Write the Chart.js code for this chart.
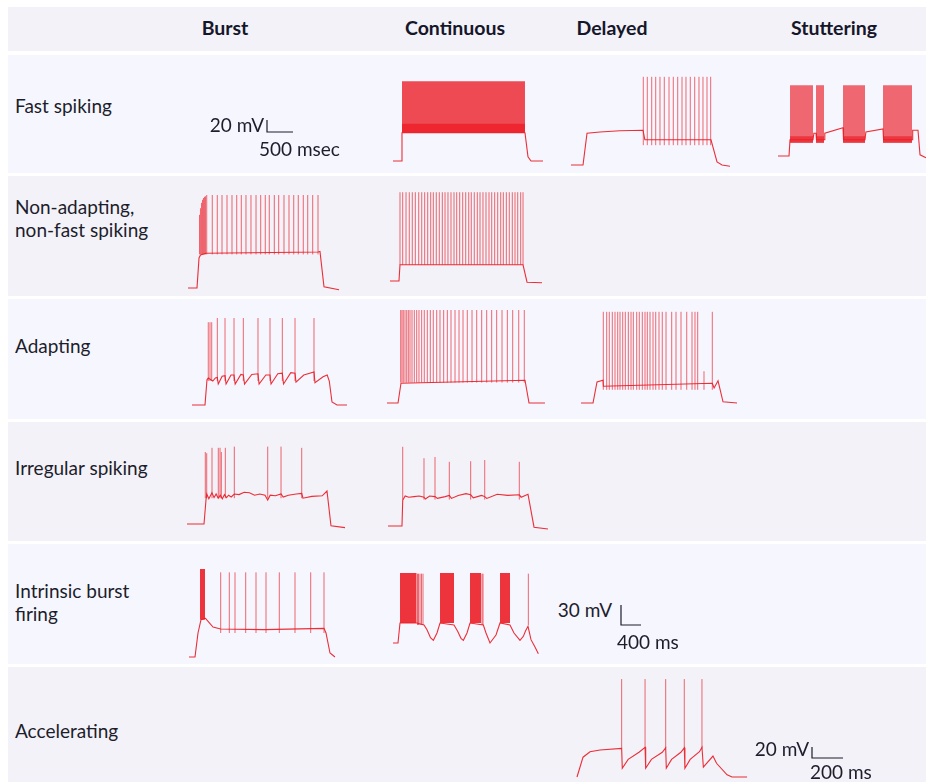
<!DOCTYPE html>
<html>
<head>
<meta charset="utf-8">
<script src="https://cdn.jsdelivr.net/npm/chart.js@4.4.1/dist/chart.umd.min.js"></script>
<style>
  html, body { margin: 0; padding: 0; background: #fff; }
  #page { position: relative; width: 926px; height: 782px; overflow: hidden;
          font-family: Lato, "Open Sans", sans-serif; color: #1d1d2c; }
  .bg { position: absolute; left: 8px; right: 0; }
  .col { position: absolute; top: 16px; font-weight: 700; font-size: 19.5px; line-height: 24px;
         transform: translateX(-50%); white-space: nowrap; color: #16162a; }
  .lbl { position: absolute; left: 15px; font-size: 19px; line-height: 23px; white-space: nowrap; }
  .sb { position: absolute; font-size: 19px; line-height: 20px; white-space: nowrap; }
  canvas { position: absolute; }
</style>
</head>
<body>
<div id="page"></div>
<script>
// ---- text ----
const columns = ['Burst', 'Continuous', 'Delayed', 'Stuttering'];
const rowLabels = [['Fast spiking'], ['Non-adapting,', 'non-fast spiking'], ['Adapting'],
                   ['Irregular spiking'], ['Intrinsic burst', 'firing'], ['Accelerating']];
const scaleBarMv = [20, 30, 20];
const scaleBarMs = [500, 400, 200];
const scaleBarMsLabel = ['500 msec', '400 ms', '200 ms'];

// ---- traces: time in ms, membrane potential in mV ----
// fast spiking / continuous
const fsContPath = [[0,-70],[154,-70],[173,-23],[2538,-23],[2596,-63],[2654,-70],[2885,-70]];
const fsContBands = [[173,2538,-23,63],[173,2538,-23,-8]];

// fast spiking / delayed
const fsDelayedPath = [[0,-70],[231,-70],[308,-17],[558,-15],[942,-13],[1385,-12],[1420,-28],[2692,-28],[2808,-65],[2904,-70],[3058,-72]];
const fsDelayedSpikeT = [1390,1467,1552,1629,1711,1794,1885,1967,2052,2135,2211,2294,2379,2461,2538,2615,2686];
const fsDelayedPeak = 77;

// fast spiking / stuttering
const fsStutterPath = [[0,-70],[212,-70],[231,-43],[673,-43],[690,-32],[731,-32],[740,-43],[885,-43],[900,-32],[1250,-23],[1260,-43],[1673,-43],[1690,-30],[2019,-25],[2030,-43],[2577,-43],[2590,-27],[2692,-27],[2731,-68],[2846,-73]];
const fsStutterBands = [[231,673,-48,48],[731,885,-48,48],[1250,1673,-48,48],[2019,2577,-48,48],
                        [231,673,-48,-37],[731,885,-48,-37],[1250,1673,-48,-37],[2019,2577,-48,-37]];

// non-adapting non-fast spiking / burst
const nafsBurstPath = [[0,-70],[173,-70],[212,-20],[240,-15],[346,-12],[2500,-10],[2538,-9],[2615,-68],[2904,-73]];
const nafsBurstSpikeT = [221,240,260,279,298,317,337,360,467,563,654,750,846,937,1025,1115,1211,1308,1398,1486,1563,1660,1744,1846,1942,2033,2121,2217,2302,2398,2500];
const nafsBurstPeak = [52,63,72,77,80,82,83,85,85,85,85,85,85,85,85,85,85,85,85,85,85,85,85,85,85,85,85,85,85,85,85];

// non-adapting non-fast spiking / continuous
const nafsContPath = [[0,-70],[173,-70],[192,-43],[2558,-43],[2635,-72],[2923,-73]];
const nafsContSpikeT = [192,244,308,371,429,487,552,610,667,725,783,833,890,948,1006,1058,1115,1173,1231,1283,1340,1398,1456,1514,1563,1621,1679,1731,1788,1846,1904,1956,2013,2071,2129,2179,2237,2294,2352,2404,2456,2513,2558];
const nafsContPeak = 78;

// adapting / burst
const adBurstPath = [[0,-70],[250,-70],[288,-28],[313,-25],[400,-30],[450,-25],[487,-24],[505,-35],[580,-22],[635,-21],[655,-35],[750,-20],[808,-20],[830,-35],[940,-19],[987,-20],[1010,-35],[1150,-19],[1269,-18],[1290,-35],[1420,-20],[1500,-20],[1520,-35],[1650,-18],[1737,-17],[1760,-35],[1900,-16],[1981,-17],[2000,-32],[2150,-20],[2346,-15],[2365,-33],[2520,-23],[2600,-20],[2640,-30],[2692,-65],[2788,-70],[2981,-70]];
const adBurstSpikeT = [313,346,379,487,635,808,987,1269,1500,1737,1981,2346];
const adBurstPeak = [68,68,68,75,75,75,75,75,75,75,75,75];

// adapting / continuous
const adContPath = [[0,-70],[212,-70],[269,-37],[2654,-32],[2731,-70],[3038,-70]];
const adContSpikeT = [263,288,313,346,379,410,442,481,525,571,615,667,717,775,833,890,956,1019,1090,1160,1231,1308,1385,1462,1544,1635,1725,1821,1917,2013,2109,2212,2314,2417,2533,2640];
const adContPeak = 85;

// adapting / delayed
const adDelayedPath = [[0,-70],[231,-70],[308,-35],[423,-32],[430,-42],[2525,-37],[2560,-45],[2635,-33],[2731,-68],[3000,-70]];
const adDelayedSpikeT = [429,494,544,602,654,706,750,802,852,910,962,1006,1071,1121,1179,1231,1275,1327,1385,1437,1500,1563,1635,1744,1827,1923,2033,2135,2192,2244,2365,2525];
const adDelayedPeak = [82,82,82,82,82,82,82,82,82,82,82,82,82,82,82,82,82,82,82,82,82,82,82,82,82,82,82,82,82,82,-17,82];

// irregular spiking / burst
const isBurstPath = [[0,-70],[327,-70],[365,-30],[380,-20],[420,-28],[480,-18],[520,-26],[560,-20],[600,-27],[640,-22],[680,-28],[720,-21],[760,-26],[800,-22],[850,-25],[910,-20],[1000,-21],[1100,-17],[1200,-18],[1300,-22],[1400,-20],[1500,-22],[1552,-30],[1600,-22],[1700,-23],[1808,-20],[1850,-25],[1950,-22],[2100,-20],[2206,-19],[2230,-27],[2400,-24],[2600,-23],[2692,-15],[2769,-73],[3038,-76]];
const isBurstSpikeT = [352,379,481,602,635,660,737,910,1552,1808,2206];
const isBurstPeak = [50,48,57,57,57,50,57,59,59,59,57];

// irregular spiking / continuous
const isContPath = [[0,-70],[269,-70],[283,-27],[330,-20],[400,-22],[500,-21],[600,-20],[692,-22],[720,-25],[800,-20],[904,-21],[950,-24],[1100,-21],[1179,-19],[1220,-24],[1350,-19],[1500,-16],[1590,-18],[1640,-23],[1800,-19],[1860,-21],[1900,-24],[2100,-17],[2300,-19],[2525,-18],[2560,-22],[2692,-17],[2808,-72],[3077,-75]];
const isContSpikeT = [283,692,904,1179,1590,1860,2525];
const isContPeak = [62,43,45,37,38,40,37];

// intrinsic burst firing / burst
const ibBurstPath = [[0,-70],[120,-70],[180,-34],[240,-14],[330,-12],[480,-25],[634,-28],[1500,-29],[2700,-27],[2740,-34],[2820,-64],[2920,-70]];
const ibBurstBands = [[220,320,-14,62]];
const ibBurstSpikeT = [634,806,920,1134,1340,1540,1806,2120,2434,2700];
const ibBurstPeak = 57;

// intrinsic burst firing / continuous
const ibContPath = [[0,-70],[100,-70],[140,-40],[474,-40],[620,-43],[680,-50],[750,-62],[807,-66],[880,-55],[940,-40],[1220,-43],[1290,-52],[1360,-63],[1407,-66],[1480,-55],[1540,-40],[1807,-43],[1860,-55],[1940,-70],[2060,-58],[2140,-40],[2340,-43],[2420,-55],[2540,-66],[2607,-60],[2650,-52],[2700,-45],[2760,-65],[2840,-76],[2907,-86]];
const ibContBands = [[140,474,-40,35],[940,1220,-40,35],[1540,1760,-40,35],[2140,2340,-40,35]];
const ibContSpikeT = [490,510,540,570,600,1780,1800,2707];
const ibContPeak = 34;

// accelerating / delayed
const accPath = [[0,-70],[39,-34],[84,-24],[148,-21],[288,-18],[292,-54],[330,-38],[400,-25],[439,-16],[443,-54],[480,-38],[550,-25],[572,-17],[576,-54],[610,-38],[670,-25],[692,-17],[696,-54],[730,-38],[790,-24],[806,-16],[815,-52],[877,-32],[900,-45],[968,-66],[1000,-70],[1097,-70]];
const accSpikeT = [288,439,572,692,806];
const accPeak = 108;

// ---- layout ----
const REST = -70;
const scales = {
  A: { msPx: 19.23, mvPx: 1.667 },
  B: { msPx: 20, mvPx: 1.5 },
  C: { msPx: 6.45, mvPx: 1.818 }
};
const rowTop = [55, 176, 299, 422, 544, 667];
const rowH = [118, 120, 120, 119, 120, 115];
const rowBg = ['#f6f7fe', '#f3f2f8', '#f6f7fe', '#f3f2f8', '#f6f7fe', '#f3f2f8'];
const colX = [225, 455, 612, 834];
const labelY = [94, 195, 334, 456, 579, 719];

const RED = 'rgba(234, 28, 38, 0.92)';
const RED_SPIKE = 'rgba(234, 28, 38, 0.66)';
const INK = '#1d1d2c';
const bandColor = a => 'rgba(236, 30, 40, ' + a + ')';

const traces = [
  { row: 0, g: 'A', x0: 393, yb: 161, w: 150, path: fsContPath, bands: fsContBands, bandA: 0.8 },
  { row: 0, g: 'A', x0: 571, yb: 165, w: 160, path: fsDelayedPath, spikes: fsDelayedSpikeT, peak: fsDelayedPeak, base: -37 },
  { row: 0, g: 'A', x0: 778, yb: 156, w: 150, path: fsStutterPath, bands: fsStutterBands, bandA: 0.66 },
  { row: 1, g: 'A', x0: 188, yb: 288, w: 151, path: nafsBurstPath, spikes: nafsBurstSpikeT, peak: nafsBurstPeak, base: -14 },
  { row: 1, g: 'A', x0: 390, yb: 281, w: 152, path: nafsContPath, spikes: nafsContSpikeT, peak: nafsContPeak, base: -43 },
  { row: 2, g: 'A', x0: 192, yb: 405, w: 155, path: adBurstPath, spikes: adBurstSpikeT, peak: adBurstPeak, base: -30 },
  { row: 2, g: 'A', x0: 387, yb: 403, w: 158, path: adContPath, spikes: adContSpikeT, peak: adContPeak, base: -36 },
  { row: 2, g: 'A', x0: 581, yb: 403, w: 156, path: adDelayedPath, spikes: adDelayedSpikeT, peak: adDelayedPeak, base: -48 },
  { row: 3, g: 'A', x0: 187, yb: 524, w: 158, path: isBurstPath, spikes: isBurstSpikeT, peak: isBurstPeak, base: -27 },
  { row: 3, g: 'A', x0: 388, yb: 526, w: 160, path: isContPath, spikes: isContSpikeT, peak: isContPeak, base: -26 },
  { row: 4, g: 'B', x0: 189, yb: 657, w: 146, path: ibBurstPath, bands: ibBurstBands, bandA: 0.9, spikes: ibBurstSpikeT, peak: ibBurstPeak, base: -34 },
  { row: 4, g: 'B', x0: 393, yb: 643, w: 146, path: ibContPath, bands: ibContBands, bandA: 0.9, spikes: ibContSpikeT, peak: ibContPeak, base: -43 },
  { row: 5, g: 'C', x0: 577, yb: 777, w: 170, path: accPath, spikes: accSpikeT, peak: accPeak, base: -18 }
];

// scale bars: corner of the L in page pixels, and the scale group they belong to
const scaleBars = [
  { g: 'A', cx: 267, cy: 132, mvRight: 264, mvY: 115, msLeft: 259, msY: 139 },
  { g: 'B', cx: 621, cy: 625, mvRight: 612, mvY: 600, msLeft: 617, msY: 632 },
  { g: 'C', cx: 812, cy: 758, mvRight: 809, mvY: 739, msLeft: 810, msY: 762 }
];

const page = document.getElementById('page');

function addDiv(cls, css, text) {
  const d = document.createElement('div');
  d.className = cls;
  Object.assign(d.style, css);
  if (text !== undefined) d.textContent = text;
  page.appendChild(d);
  return d;
}

function addCanvas(left, top, width, height) {
  const cv = document.createElement('canvas');
  cv.width = width; cv.height = height;
  cv.style.left = left + 'px'; cv.style.top = top + 'px';
  cv.style.width = width + 'px'; cv.style.height = height + 'px';
  page.appendChild(cv);
  return cv;
}

function baseOptions(xMin, xMax, yMin, yMax) {
  return {
    responsive: false,
    animation: false,
    events: [],
    devicePixelRatio: 1,
    layout: { padding: 0 },
    plugins: { legend: { display: false }, tooltip: { enabled: false } },
    elements: { point: { radius: 0 }, line: { tension: 0 } },
    scales: {
      x: { type: 'linear', min: xMin, max: xMax, display: false },
      y: { type: 'linear', min: yMin, max: yMax, display: false }
    }
  };
}

// backgrounds
addDiv('bg', { top: '7px', height: '44px', background: '#f3f2f8' });
rowTop.forEach((t, i) => addDiv('bg', { top: t + 'px', height: rowH[i] + 'px', background: rowBg[i] }));

// headers and row labels
columns.forEach((c, i) => addDiv('col', { left: colX[i] + 'px' }, c));
rowLabels.forEach((lines, i) => {
  const d = addDiv('lbl', { top: labelY[i] + 'px' });
  d.innerHTML = lines.join('<br>');
});

// traces
traces.forEach(tr => {
  const s = scales[tr.g];
  const pad = 4;
  const top = rowTop[tr.row], h = rowH[tr.row];
  const width = tr.w + 2 * pad;
  const cv = addCanvas(tr.x0 - pad, top, width, h);
  const xMin = -pad * s.msPx, xMax = (width - pad) * s.msPx;
  const yMax = REST + (tr.yb - top) * s.mvPx;
  const yMin = REST - (top + h - tr.yb) * s.mvPx;

  const datasets = [];
  datasets.push({
    data: tr.path.map(p => ({ x: p[0], y: p[1] })),
    borderColor: RED, borderWidth: 1.1, pointRadius: 0, fill: false
  });
  if (tr.spikes) {
    const pts = [];
    tr.spikes.forEach((t, i) => {
      const pk = Array.isArray(tr.peak) ? tr.peak[i] : tr.peak;
      pts.push({ x: t, y: tr.base }, { x: t, y: pk }, { x: t, y: null });
    });
    datasets.push({ data: pts, borderColor: RED_SPIKE, borderWidth: 1, pointRadius: 0, fill: false, spanGaps: false });
  }
  (tr.bands || []).forEach(b => {
    datasets.push({
      data: [{ x: b[0], y: b[3] }, { x: b[1], y: b[3] }],
      borderColor: 'rgba(0,0,0,0)', borderWidth: 0, pointRadius: 0,
      backgroundColor: bandColor(tr.bandA), fill: { value: b[2] }
    });
  });

  new Chart(cv.getContext('2d'), { type: 'line', data: { datasets }, options: baseOptions(xMin, xMax, yMin, yMax) });
});

// scale bars
scaleBars.forEach((sb, i) => {
  const s = scales[sb.g];
  const left = sb.cx - 4, top = sb.cy - 40, width = 60, height = 50;
  const cv = addCanvas(left, top, width, height);
  const xMin = -4 * s.msPx, xMax = (width - 4) * s.msPx;
  const yMax = 40 * s.mvPx, yMin = -(height - 40) * s.mvPx;
  new Chart(cv.getContext('2d'), {
    type: 'line',
    data: { datasets: [{
      data: [{ x: 0, y: scaleBarMv[i] }, { x: 0, y: 0 }, { x: scaleBarMs[i], y: 0 }],
      borderColor: INK, borderWidth: 1.2, pointRadius: 0, fill: false
    }] },
    options: baseOptions(xMin, xMax, yMin, yMax)
  });
  addDiv('sb', { top: sb.mvY + 'px', right: (926 - sb.mvRight) + 'px' }, scaleBarMv[i] + ' mV');
  addDiv('sb', { top: sb.msY + 'px', left: sb.msLeft + 'px' }, scaleBarMsLabel[i]);
});
</script>
</body>
</html>
